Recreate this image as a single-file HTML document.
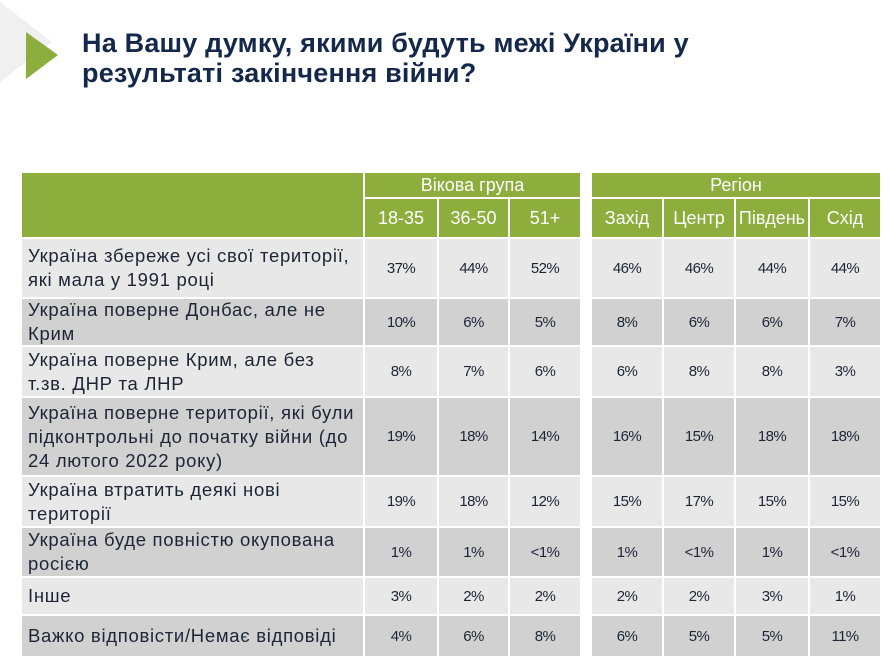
<!DOCTYPE html>
<html><head><meta charset="utf-8">
<style>
body{margin:0;width:891px;height:672px;background:#fff;position:relative;overflow:hidden;font-family:"Liberation Sans","DejaVu Sans",sans-serif;}
.c{position:absolute;box-sizing:border-box;display:flex;align-items:center;color:#1d2535;}
.h{background:#8dad3d;color:#fff;justify-content:center;font-size:18px;}
.lab{font-size:18.5px;line-height:24px;padding-left:6px;letter-spacing:0.7px;white-space:nowrap;}
.v{justify-content:center;font-size:15px;letter-spacing:-0.6px;}
.title{position:absolute;left:82px;top:28px;font-size:27px;font-weight:bold;color:#14284b;line-height:30px;letter-spacing:0.2px;}
</style></head><body>
<svg style="position:absolute;left:0;top:0" width="80" height="90">
<polygon points="0,2 52,42 0,82" fill="#f0f0f0"/>
<polygon points="26,32 58,55 26,79" fill="#8dad3d"/>
</svg>
<div class="title">На Вашу думку, якими будуть межі України у<br>результаті закінчення війни?</div>
<div id="t"></div>
<script>
const labels=["Україна збереже усі свої території,<br>які мала у 1991 році","Україна поверне Донбас, але не<br>Крим","Україна поверне Крим, але без<br>т.зв. ДНР та ЛНР","Україна поверне території, які були<br>підконтрольні до початку війни (до<br>24 лютого 2022 року)","Україна втратить деякі нові<br>території","Україна буде повністю окупована<br>росією","Інше","Важко відповісти/Немає відповіді"];
const cols=["18-35","36-50","51+","Захід","Центр","Південь","Схід"];
const values=[["37%","44%","52%","46%","46%","44%","44%"],["10%","6%","5%","8%","6%","6%","7%"],["8%","7%","6%","6%","8%","8%","3%"],["19%","18%","14%","16%","15%","18%","18%"],["19%","18%","12%","15%","17%","15%","15%"],["1%","1%","<1%","1%","<1%","1%","<1%"],["3%","2%","2%","2%","2%","3%","1%"],["4%","6%","8%","6%","5%","5%","11%"]];
const t=document.getElementById('t');
const cx=[365,439,510,592,664,736,810],cw=[72,69,70,70,70,72,70];
const ry=[239,299,347,398,477,528,578,616],rh=[58,46,49,77,49,48,36,40];
function cell(x,y,w,h,cls,html,name){const d=document.createElement('div');d.className='c '+cls;d.style.cssText=`left:${x}px;top:${y}px;width:${w}px;height:${h}px`;d.innerHTML=html;


t.appendChild(d);return d;}
cell(22,173,341,64,'h','','header-blank');
cell(365,173,215,24,'h','Вікова група','header-age-group');
cell(592,173,288,24,'h','Регіон','header-region');
cols.forEach((c,i)=>cell(cx[i],199,cw[i],38,'h',c,'col-header-'+i));
labels.forEach((l,r)=>{const bg=r%2?'#d1d1d1':'#e8e8e8';
 const a=cell(22,ry[r],341,rh[r],'lab',l,'row-label-'+r);a.style.background=bg;
 values[r].forEach((v,i)=>{const d=cell(cx[i],ry[r],cw[i],rh[r],'v',v.replace('<','&lt;'),'value-cell');d.style.background=bg;});
});
</script>
</body></html>
